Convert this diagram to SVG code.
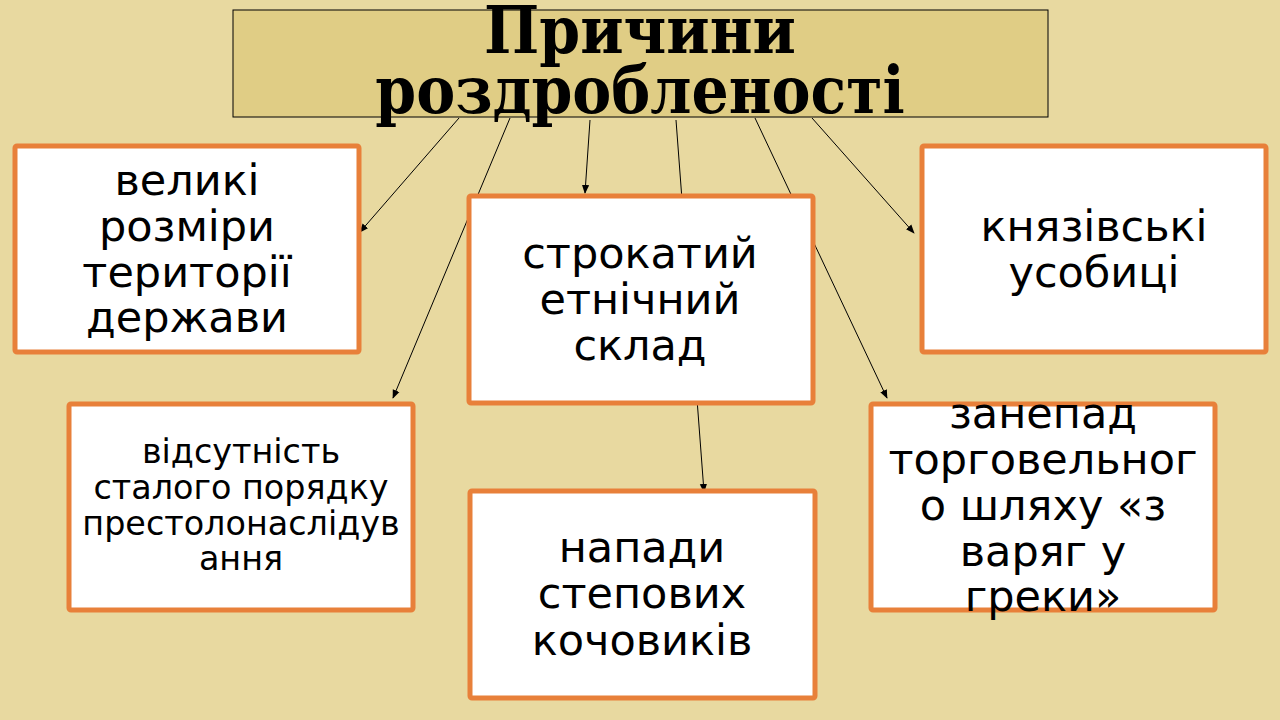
<svg xmlns="http://www.w3.org/2000/svg" width="1280" height="720" viewBox="0 0 1280 720">
<defs>
<marker id="ah" viewBox="0 0 10 10" refX="9" refY="5" markerWidth="9" markerHeight="9" markerUnits="userSpaceOnUse" orient="auto">
<path d="M0,1 L10,5 L0,9 z" fill="#000"/>
</marker>
<style>
.box{fill:#fff;stroke:#e8803a;stroke-width:5}
.t{font-family:"DejaVu Sans","Noto Sans",sans-serif;font-size:43px;fill:#000;text-anchor:middle}
.s{font-size:33.4px}
.ttl{font-family:"DejaVu Serif Condensed","DejaVu Serif",serif;font-stretch:condensed;font-weight:bold;font-size:65px;text-anchor:middle;fill:#000}
.c{stroke:#000;stroke-width:1;fill:none;marker-end:url(#ah)}
</style>
</defs>
<rect width="1280" height="720" fill="#e8d9a0"/>
<g id="connectors">
<line class="c" x1="459" y1="118" x2="360" y2="232"/>
<line class="c" x1="510" y1="118" x2="393" y2="398"/>
<line class="c" x1="590" y1="120" x2="585" y2="193"/>
<line class="c" x1="676" y1="120" x2="704" y2="492"/>
<line class="c" x1="755" y1="118" x2="887" y2="398"/>
<line class="c" x1="812" y1="118" x2="914" y2="233"/>
</g>
<g id="title">
<rect x="233" y="10" width="815" height="107" fill="#e0cd85" stroke="#000" stroke-width="1"/>
<text class="ttl" x="640" y="53">Причини</text>
<text class="ttl" x="640" y="113">роздробленості</text>
</g>
<g id="n1">
<rect class="box" x="15" y="146" width="344" height="206" rx="2"/>
<text class="t" x="187" y="195">великі</text>
<text class="t" x="187" y="241">розміри</text>
<text class="t" x="187" y="287">території</text>
<text class="t" x="187" y="332">держави</text>
</g>
<g id="n2">
<rect class="box" x="469" y="196" width="344" height="207" rx="2"/>
<text class="t" x="640" y="268">строкатий</text>
<text class="t" x="640" y="314">етнічний</text>
<text class="t" x="640" y="360">склад</text>
</g>
<g id="n3">
<rect class="box" x="922" y="146" width="344" height="206" rx="2"/>
<text class="t" x="1094" y="241">князівські</text>
<text class="t" x="1094" y="287">усобиці</text>
</g>
<g id="n4">
<rect class="box" x="69" y="404" width="344" height="206" rx="2"/>
<text class="t s" x="241" y="463">відсутність</text>
<text class="t s" x="241" y="499">сталого порядку</text>
<text class="t s" x="241" y="535">престолонаслідув</text>
<text class="t s" x="241" y="570">ання</text>
</g>
<g id="n5">
<rect class="box" x="470" y="491" width="345" height="207" rx="2"/>
<text class="t" x="642" y="562">напади</text>
<text class="t" x="642" y="608">степових</text>
<text class="t" x="642" y="655">кочовиків</text>
</g>
<g id="n6">
<rect class="box" x="871" y="404" width="344" height="206" rx="2"/>
<text class="t" x="1043" y="428">занепад</text>
<text class="t" x="1043" y="474">торговельног</text>
<text class="t" x="1043" y="520">о шляху «з</text>
<text class="t" x="1043" y="566">варяг у</text>
<text class="t" x="1043" y="611">греки»</text>
</g>
</svg>
